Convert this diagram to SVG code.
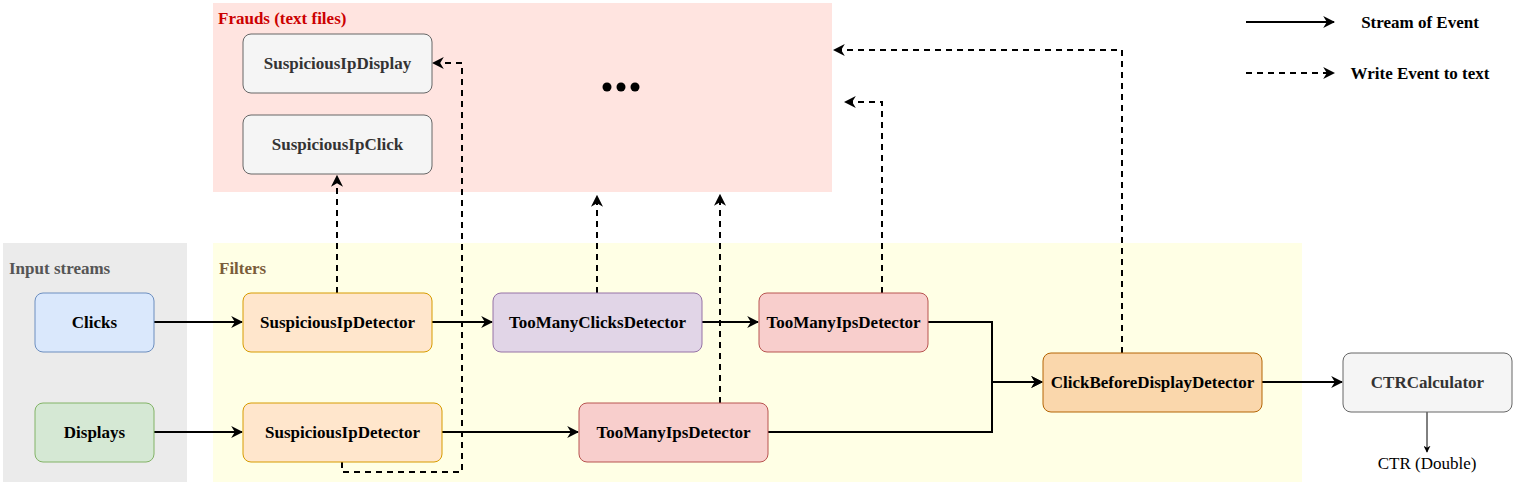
<svg xmlns="http://www.w3.org/2000/svg" width="1513" height="485" viewBox="0 0 1513 485">
<defs>
<style>
.t{font-family:"Liberation Serif","Times New Roman",serif;font-weight:bold;font-size:17px;text-anchor:middle;dominant-baseline:central;fill:#000}
.g{fill:#333}
.n{rx:8;ry:8;stroke-width:1}
.s{fill:none;stroke:#000;stroke-width:2}
.d{fill:none;stroke:#000;stroke-width:2;stroke-dasharray:6 5}
.lab{font-family:"Liberation Serif","Times New Roman",serif;font-weight:bold;font-size:17px}
</style>
<marker id="a" viewBox="0 0 10 10" refX="9" refY="5" markerWidth="7" markerHeight="7" orient="auto" markerUnits="userSpaceOnUse">
<path d="M0,0 L10,5 L0,10 L3,5 z" fill="#000"/>
</marker>
<marker id="ab" viewBox="0 0 10 10" refX="9" refY="5" markerWidth="12" markerHeight="12" orient="auto" markerUnits="userSpaceOnUse">
<path d="M0,0 L10,5 L0,10 L3,5 z" fill="#000"/>
</marker>
</defs>
<g id="containers">
<rect x="213" y="3" width="619" height="189" fill="#ffe4e0"/>
<text x="218" y="18" class="lab" fill="#cc0000" dominant-baseline="central">Frauds (text files)</text>
<rect x="3" y="243" width="184" height="239" fill="#ebebeb"/>
<text x="9" y="268" class="lab" fill="#555555" dominant-baseline="central">Input streams</text>
<rect x="213" y="243" width="1089" height="239" fill="#ffffe5"/>
<text x="219" y="268" class="lab" fill="#7a5c3a" dominant-baseline="central">Filters</text>
</g>
<g id="connectors">
<path class="s" d="M154,322 H242" marker-end="url(#ab)"/>
<path class="s" d="M154,432 H242" marker-end="url(#ab)"/>
<path class="s" d="M432,322 H492" marker-end="url(#ab)"/>
<path class="s" d="M702,322 H758" marker-end="url(#ab)"/>
<path class="s" d="M442,432 H578" marker-end="url(#ab)"/>
<path class="s" d="M928,322 H992 V382 H1042" marker-end="url(#ab)"/>
<path class="s" d="M768,432 H992 V382 H1042" marker-end="url(#ab)"/>
<path class="s" d="M1262,382 H1342" marker-end="url(#ab)"/>
<path fill="none" stroke="#000" stroke-width="1" d="M1427,412 V452" marker-end="url(#a)"/>
<path class="d" d="M337,293 V176" marker-end="url(#ab)"/>
<path class="d" d="M342,462 V472 H462 V63 H433" marker-end="url(#ab)"/>
<path class="d" d="M597,293 V196" marker-end="url(#ab)"/>
<path class="d" d="M720,403 V195" marker-end="url(#ab)"/>
<path class="d" d="M882,293 V102 H845" marker-end="url(#ab)"/>
<path class="d" d="M1122,353 V50 H834" marker-end="url(#ab)"/>
</g>
<g id="legend">
<path class="s" d="M1246,22 H1334" marker-end="url(#ab)"/>
<text x="1420" y="22" class="t">Stream of Event</text>
<path class="d" d="M1246,73 H1334" marker-end="url(#ab)"/>
<text x="1420" y="73" class="t">Write Event to text</text>
</g>
<g id="suspiciousIpDisplay">
<rect x="243" y="34" width="189" height="59" class="n" fill="#f5f5f5" stroke="#666666"/>
<text x="337.5" y="63.5" class="t g">SuspiciousIpDisplay</text>
</g>
<g id="suspiciousIpClick">
<rect x="243" y="115" width="189" height="59" class="n" fill="#f5f5f5" stroke="#666666"/>
<text x="337.5" y="144.5" class="t g">SuspiciousIpClick</text>
</g>
<g id="dots">
<circle cx="607" cy="87" r="4.5" fill="#000"/>
<circle cx="621" cy="87" r="4.5" fill="#000"/>
<circle cx="635" cy="87" r="4.5" fill="#000"/>
</g>
<g id="clicks">
<rect x="35" y="293" width="119" height="59" class="n" fill="#dae8fc" stroke="#6c8ebf"/>
<text x="94.5" y="322.5" class="t">Clicks</text>
</g>
<g id="displays">
<rect x="35" y="403" width="119" height="59" class="n" fill="#d5e8d4" stroke="#82b366"/>
<text x="94.5" y="432.5" class="t">Displays</text>
</g>
<g id="sipdTop">
<rect x="243" y="293" width="189" height="59" class="n" fill="#ffe6cc" stroke="#d79b00"/>
<text x="337.5" y="322.5" class="t">SuspiciousIpDetector</text>
</g>
<g id="sipdBottom">
<rect x="243" y="403" width="199" height="59" class="n" fill="#ffe6cc" stroke="#d79b00"/>
<text x="342.5" y="432.5" class="t">SuspiciousIpDetector</text>
</g>
<g id="tooManyClicks">
<rect x="493" y="293" width="209" height="59" class="n" fill="#e1d5e7" stroke="#9673a6"/>
<text x="597.5" y="322.5" class="t">TooManyClicksDetector</text>
</g>
<g id="tooManyIpsTop">
<rect x="759" y="293" width="169" height="59" class="n" fill="#f8cecc" stroke="#b85450"/>
<text x="843.5" y="322.5" class="t">TooManyIpsDetector</text>
</g>
<g id="tooManyIpsBottom">
<rect x="579" y="403" width="189" height="59" class="n" fill="#f8cecc" stroke="#b85450"/>
<text x="673.5" y="432.5" class="t">TooManyIpsDetector</text>
</g>
<g id="clickBeforeDisplay">
<rect x="1043" y="353" width="219" height="59" class="n" fill="#fad7ac" stroke="#b46504"/>
<text x="1152.5" y="382.5" class="t">ClickBeforeDisplayDetector</text>
</g>
<g id="ctrCalculator">
<rect x="1343" y="353" width="169" height="59" class="n" fill="#f5f5f5" stroke="#666666"/>
<text x="1427.5" y="382.5" class="t g">CTRCalculator</text>
</g>
<g id="ctrDouble">
<text x="1427" y="463" class="t" style="font-weight:normal">CTR (Double)</text>
</g>
</svg>
